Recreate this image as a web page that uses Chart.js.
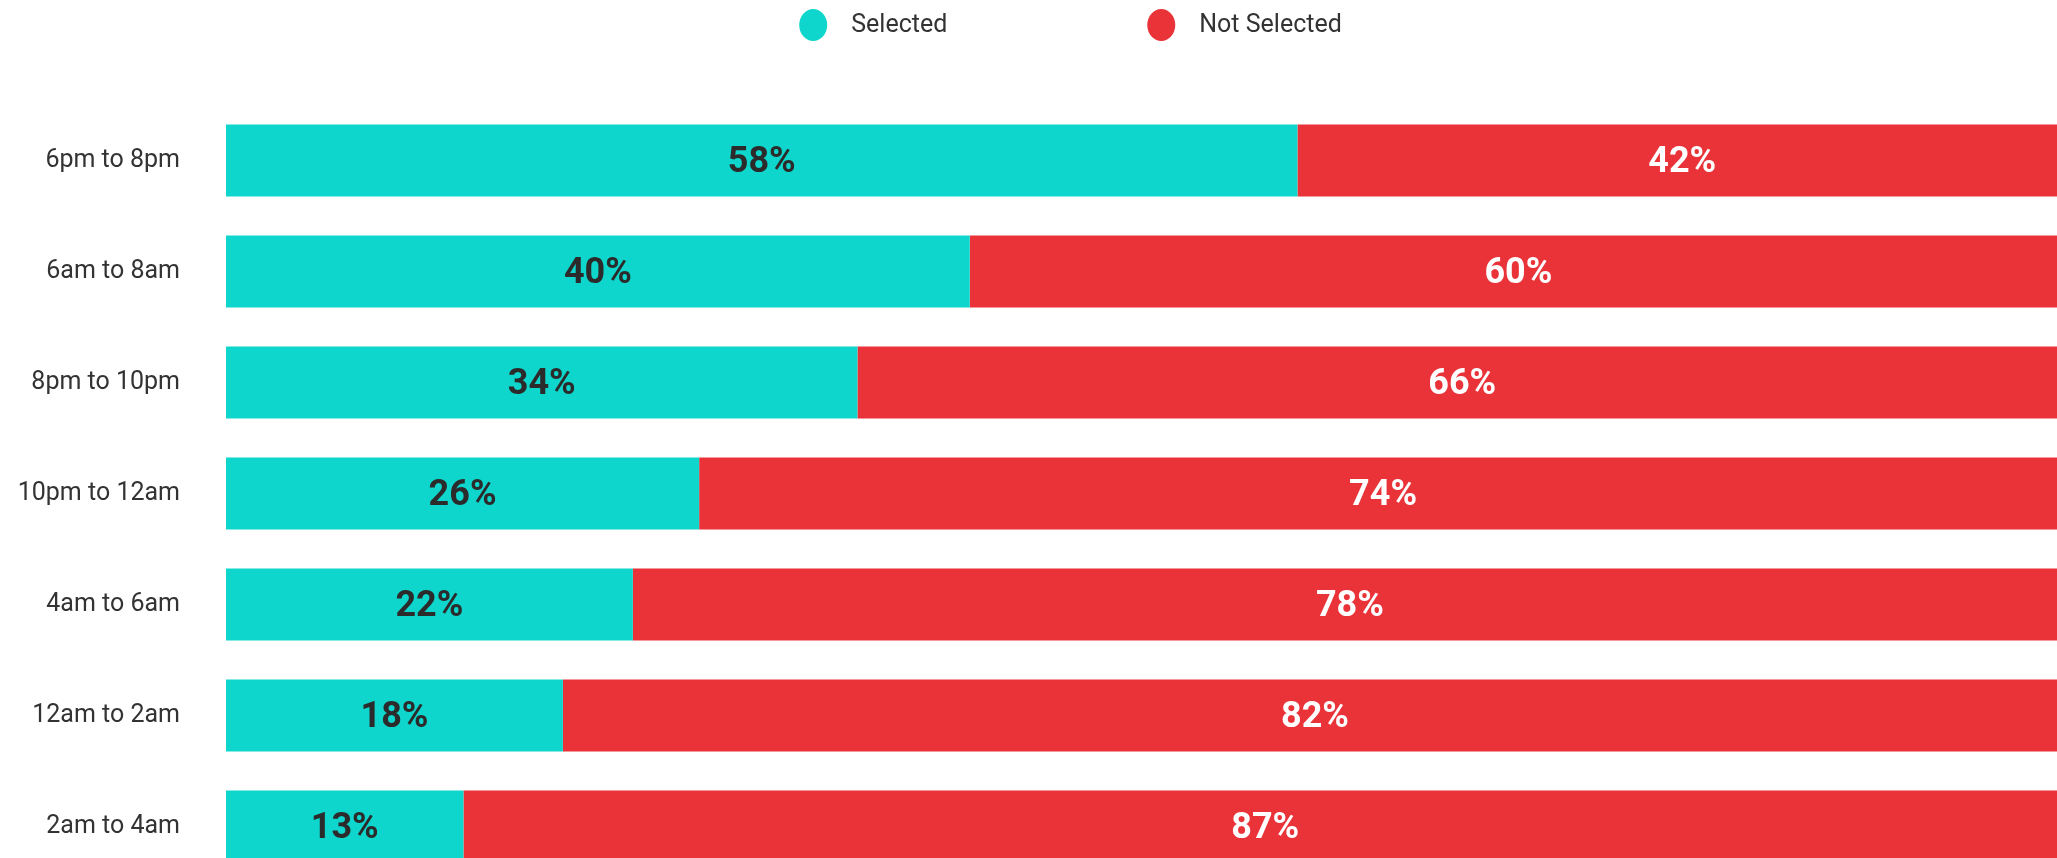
<!DOCTYPE html>
<html lang="en">
<head>
    <meta charset="UTF-8">
    <script src="https://cdn.jsdelivr.net/npm/chart.js@4.4.1/dist/chart.umd.min.js"></script>
    <style>
        body {
            margin: 0;
            overflow: hidden;
            background: #fff;
        }

        canvas {
            display: block;
        }
    </style>
    <title>Selected vs Not Selected</title>
</head>
<body>
    <canvas id="chartCanvas" width="2140" height="935"></canvas>

    <script>
        const timeSlots = ['6pm to 8pm', '6am to 8am', '8pm to 10pm', '10pm to 12am', '4am to 6am', '12am to 2am', '2am to 4am'];
        // shares; labels show them rounded
        const selectedValues = [58.2, 40.4, 34.3, 25.7, 22.1, 18.3, 12.9];
        const notSelectedValues = [41.8, 59.6, 65.7, 74.3, 77.9, 81.7, 87.1];
        const seriesNames = ['Selected', 'Not Selected'];

        const tealColor = '#0fd6cc';
        const redColor = '#e93339';
        const textColor = '#333333';

        // draws the legend by hand so the spacing matches
        const topLegend = {
            id: 'topLegend',
            afterDraw(chart) {
                const ctx = chart.ctx;
                const datasets = chart.data.datasets;
                ctx.save();
                ctx.font = '25px Roboto';
                ctx.textBaseline = 'middle';
                ctx.textAlign = 'left';
                const dot = 15;
                const gapText = 23;
                const gapItem = 199;
                const widths = datasets.map(ds => 2 * dot + gapText + ctx.measureText(ds.label).width);
                const total = widths.reduce((a, b) => a + b, 0) + gapItem * (widths.length - 1);
                let x = chart.width / 2 - total / 2;
                const y = 25;
                datasets.forEach((ds, i) => {
                    ctx.fillStyle = ds.backgroundColor;
                    ctx.beginPath();
                    ctx.ellipse(x + dot, y, dot - 1, dot + 1, 0, 0, Math.PI * 2);
                    ctx.fill();
                    ctx.fillStyle = textColor;
                    ctx.fillText(ds.label, x + 2 * dot + gapText, y + 1);
                    x += widths[i] + gapItem;
                });
                ctx.restore();
            }
        };

        // percent labels in the middle of each segment
        const barLabels = {
            id: 'barLabels',
            afterDatasetsDraw(chart) {
                const ctx = chart.ctx;
                ctx.save();
                ctx.font = 'bold 36px Roboto';
                ctx.textAlign = 'center';
                ctx.textBaseline = 'middle';
                chart.data.datasets.forEach((ds, di) => {
                    const meta = chart.getDatasetMeta(di);
                    meta.data.forEach((bar, i) => {
                        const p = bar.getProps(['x', 'y', 'base'], true);
                        ctx.fillStyle = di === 0 ? '#2b2b2b' : '#ffffff';
                        ctx.fillText(Math.round(ds.data[i]) + '%', (p.x + p.base) / 2, p.y + 2);
                    });
                });
                ctx.restore();
            }
        };

        const ctx = document.getElementById('chartCanvas').getContext('2d');
        new Chart(ctx, {
            type: 'bar',
            data: {
                labels: timeSlots,
                datasets: [
                    {
                        label: seriesNames[0],
                        data: selectedValues,
                        backgroundColor: tealColor,
                        categoryPercentage: 0.8,
                        barPercentage: 0.81
                    },
                    {
                        label: seriesNames[1],
                        data: notSelectedValues,
                        backgroundColor: redColor,
                        categoryPercentage: 0.8,
                        barPercentage: 0.81
                    }
                ]
            },
            options: {
                indexAxis: 'y',
                responsive: false,
                animation: false,
                layout: {
                    padding: { top: 105, right: 73, bottom: 3, left: 0 }
                },
                plugins: {
                    legend: { display: false },
                    tooltip: { enabled: false }
                },
                scales: {
                    x: {
                        stacked: true,
                        min: 0,
                        max: 100,
                        display: false
                    },
                    y: {
                        stacked: true,
                        grid: { display: false },
                        border: { display: false },
                        ticks: {
                            color: textColor,
                            font: { family: 'Roboto', size: 25 },
                            padding: 38
                        },
                        afterFit(scale) {
                            scale.width = 226;
                        }
                    }
                }
            },
            plugins: [topLegend, barLabels]
        });
    </script>
</body>
</html>
